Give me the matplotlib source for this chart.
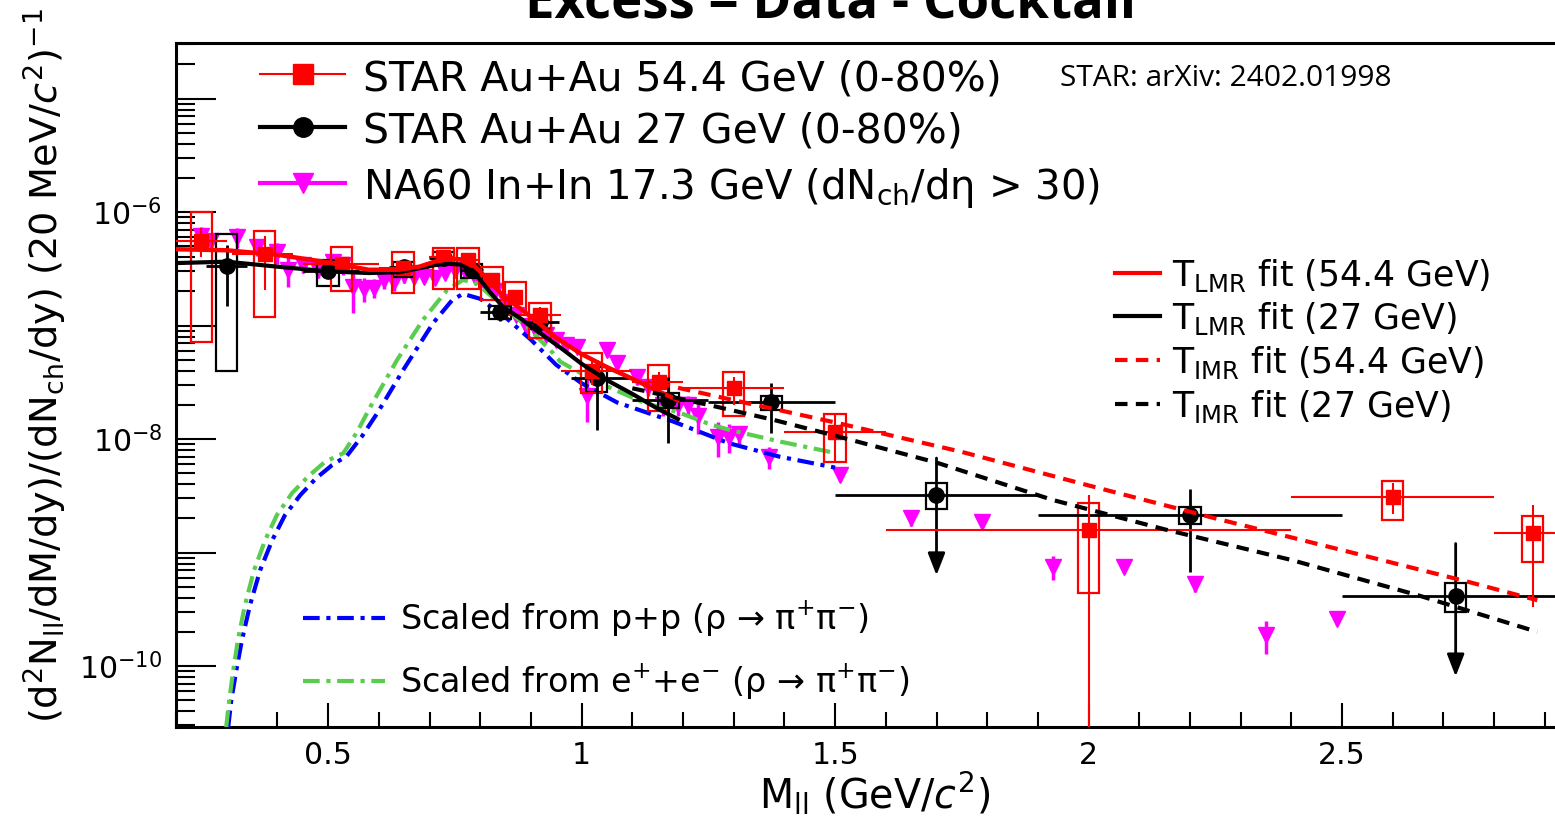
import numpy as np
import matplotlib
matplotlib.use('Agg')
import matplotlib.pyplot as plt
from matplotlib.patches import Rectangle
from matplotlib.lines import Line2D
from matplotlib.ticker import LogLocator, MultipleLocator, FuncFormatter, NullFormatter

plt.rcParams['font.family'] = ['DejaVu Sans']
plt.rcParams['mathtext.default'] = 'regular'

# STAR Au+Au 54.4 GeV (0-80%)
red_m = np.array([0.25, 0.375, 0.527, 0.648, 0.727, 0.776, 0.823, 0.869, 0.918, 1.02, 1.152, 1.30, 1.50, 2.00, 2.60, 2.876])
red_y = np.array([5.5e-7, 4.3e-7, 3.5e-7, 3.2e-7, 4.0e-7, 3.8e-7, 2.5e-7, 1.8e-7, 1.24e-7, 4.0e-8, 3.2e-8, 2.8e-8, 1.16e-8, 1.58e-9, 3.1e-9, 1.49e-9])
red_m_lo = np.array([0.20, 0.31, 0.45, 0.60, 0.70, 0.75, 0.80, 0.84, 0.88, 0.96, 1.10, 1.20, 1.40, 1.60, 2.40, 2.80])
red_m_hi = np.array([0.30, 0.43, 0.60, 0.70, 0.75, 0.80, 0.84, 0.88, 0.96, 1.10, 1.20, 1.40, 1.60, 2.40, 2.80, 3.00])
red_stat_lo = np.array([4.0e-7, 2.05e-7, 3.0e-7, 2.8e-7, 3.6e-7, 3.4e-7, 2.2e-7, 1.6e-7, 1.05e-7, 3.0e-8, 2.6e-8, 2.0e-8, 6.2e-9, 1e-13, 2.2e-9, 3.3e-10])
red_stat_hi = np.array([7.2e-7, 6.1e-7, 4.0e-7, 3.6e-7, 4.4e-7, 4.2e-7, 2.8e-7, 2.0e-7, 1.45e-7, 5.2e-8, 3.9e-8, 3.5e-8, 1.7e-8, 3.2e-9, 4.1e-9, 2.6e-9])
red_sys_lo = np.array([7.2e-8, 1.2e-7, 2.0e-7, 1.92e-7, 2.1e-7, 2.1e-7, 1.67e-7, 1.24e-7, 7.8e-8, 2.56e-8, 1.77e-8, 1.6e-8, 6.3e-9, 4.4e-10, 1.95e-9, 8.3e-10])
red_sys_hi = np.array([1.0e-6, 6.8e-7, 4.9e-7, 4.47e-7, 4.8e-7, 4.8e-7, 3.3e-7, 2.4e-7, 1.58e-7, 5.7e-8, 4.5e-8, 3.9e-8, 1.66e-8, 2.75e-9, 4.3e-9, 2.1e-9])

# STAR Au+Au 27 GeV (0-80%)
blk_m = np.array([0.30, 0.50, 0.649, 0.728, 0.783, 0.839, 0.918, 1.03, 1.171, 1.374, 1.70, 2.20, 2.724])
blk_y = np.array([3.34e-7, 3.0e-7, 3.3e-7, 3.95e-7, 3.08e-7, 1.32e-7, 1.08e-7, 3.43e-8, 2.2e-8, 2.1e-8, 3.2e-9, 2.13e-9, 4.1e-10])
blk_m_lo = np.array([0.26, 0.45, 0.62, 0.70, 0.76, 0.80, 0.89, 0.98, 1.10, 1.25, 1.50, 1.90, 2.50])
blk_m_hi = np.array([0.34, 0.56, 0.68, 0.76, 0.80, 0.86, 0.955, 1.10, 1.25, 1.50, 1.90, 2.50, 3.00])
blk_stat_lo = np.array([1.5e-7, 2.7e-7, 3.0e-7, 3.7e-7, 2.8e-7, 1.1e-7, 9.0e-8, 1.2e-8, 9.3e-9, 1.13e-8, 6.3e-10, 6.8e-10, 8.1e-11])
blk_stat_hi = np.array([5.1e-7, 3.3e-7, 3.6e-7, 4.2e-7, 3.4e-7, 1.55e-7, 1.28e-7, 5.0e-8, 3.5e-8, 3.1e-8, 6.8e-9, 3.6e-9, 1.2e-9])
blk_uplim = np.array([False, False, False, False, False, False, False, False, False, False, True, False, True])
blk_sys_lo = np.array([4.0e-8, 2.24e-7, 2.65e-7, 3.78e-7, 2.6e-7, 1.15e-7, 9.3e-8, 2.6e-8, 1.86e-8, 1.8e-8, 2.4e-9, 1.8e-9, 3.0e-10])
blk_sys_hi = np.array([6.4e-7, 3.78e-7, 3.65e-7, 4.47e-7, 3.5e-7, 1.5e-7, 1.25e-7, 4.3e-8, 2.55e-8, 2.4e-8, 4.1e-9, 2.5e-9, 5.4e-10])

# NA60 In+In 17.3 GeV
na60_m = np.array([0.25, 0.27, 0.32, 0.36, 0.40, 0.42, 0.45, 0.48, 0.51, 0.53, 0.55, 0.57, 0.59, 0.61, 0.63,
                   0.65, 0.67, 0.69, 0.71, 0.73, 0.75, 0.77, 0.79, 0.81, 0.83, 0.85, 0.87, 0.89, 0.91, 0.93,
                   0.95, 0.97, 0.99, 1.01, 1.05, 1.07, 1.11, 1.13, 1.16, 1.19, 1.21, 1.23, 1.27, 1.29, 1.31,
                   1.37, 1.51, 1.65, 1.79, 1.93, 2.07, 2.21, 2.35, 2.49])
na60_y = np.array([6.2e-7, 5.5e-7, 6.0e-7, 4.9e-7, 4.4e-7, 3.1e-7, 3.4e-7, 3.1e-7, 3.6e-7, 3.4e-7, 2.2e-7, 2.1e-7, 2.16e-7, 2.5e-7, 2.4e-7,
                   2.76e-7, 2.65e-7, 2.7e-7, 2.6e-7, 2.93e-7, 3.1e-7, 3.0e-7, 2.7e-7, 2.3e-7, 2.0e-7, 1.6e-7, 1.25e-7, 1.0e-7, 9.0e-8, 8.2e-8,
                   7.5e-8, 6.8e-8, 6.5e-8, 2.4e-8, 6.1e-8, 4.7e-8, 3.5e-8, 2.9e-8, 2.0e-8, 2.0e-8, 2.0e-8, 1.6e-8, 1.05e-8, 1.05e-8, 1.1e-8,
                   7.0e-9, 4.8e-9, 2.0e-9, 1.87e-9, 7.5e-10, 7.5e-10, 5.3e-10, 1.87e-10, 2.6e-10])
na60_err = np.array([1.2e-7, 0.9e-7, 1.2e-7, 0.8e-7, 0.9e-7, 0.9e-7, 0.5e-7, 0.5e-7, 0.6e-7, 0.6e-7, 0.9e-7, 0.5e-7, 0.4e-7, 0.4e-7, 0.4e-7,
                     0.4e-7, 0.3e-7, 0.3e-7, 0.3e-7, 0.3e-7, 0.3e-7, 0.3e-7, 0.3e-7, 0.25e-7, 0.2e-7, 0.15e-7, 0.12e-7, 1.0e-8, 1.0e-8, 0.9e-8,
                     0.8e-8, 0.8e-8, 0.8e-8, 1.0e-8, 0.8e-8, 0.7e-8, 0.5e-8, 0.5e-8, 0.4e-8, 0.4e-8, 0.4e-8, 0.5e-8, 0.35e-8, 0.3e-8, 0.2e-8,
                     1.5e-9, 0.5e-9, 0.3e-9, 0.2e-9, 1.8e-10, 0.8e-10, 0.8e-10, 0.6e-10, 0.3e-10])

# fits
fit_lmr_54_m = [0.20, 0.30, 0.40, 0.50, 0.58, 0.64, 0.68, 0.71, 0.73, 0.755, 0.775, 0.79, 0.81, 0.83, 0.85, 0.88, 0.91, 0.95, 1.00, 1.05, 1.10, 1.15, 1.19]
fit_lmr_54_y = [4.7e-7, 4.6e-7, 4.2e-7, 3.6e-7, 3.1e-7, 3.1e-7, 3.3e-7, 3.65e-7, 3.8e-7, 3.85e-7, 3.7e-7, 3.3e-7, 2.7e-7, 2.15e-7, 1.75e-7, 1.4e-7, 1.1e-7, 7.8e-8, 5.6e-8, 4.3e-8, 3.4e-8, 2.65e-8, 2.2e-8]
fit_lmr_27_m = [0.20, 0.30, 0.40, 0.50, 0.58, 0.64, 0.68, 0.71, 0.735, 0.76, 0.78, 0.795, 0.82, 0.845, 0.88, 0.91, 0.96, 1.00, 1.05, 1.10, 1.15, 1.19]
fit_lmr_27_y = [3.55e-7, 3.65e-7, 3.3e-7, 3.0e-7, 2.9e-7, 2.95e-7, 3.2e-7, 3.4e-7, 3.5e-7, 3.45e-7, 3.1e-7, 2.7e-7, 1.95e-7, 1.46e-7, 1.15e-7, 9.1e-8, 6.3e-8, 4.6e-8, 3.3e-8, 2.5e-8, 1.85e-8, 1.5e-8]
fit_imr_54_m = [1.15, 1.30, 1.50, 1.75, 2.00, 2.25, 2.50, 2.75, 2.885]
fit_imr_54_y = [3.1e-8, 2.2e-8, 1.4e-8, 7.7e-9, 3.9e-9, 2.0e-9, 1.05e-9, 5.5e-10, 3.8e-10]
fit_imr_27_m = [1.10, 1.25, 1.38, 1.50, 1.70, 1.93, 2.15, 2.40, 2.65, 2.885]
fit_imr_27_y = [2.8e-8, 2.0e-8, 1.47e-8, 1.07e-8, 6.2e-9, 2.9e-9, 1.6e-9, 8.6e-10, 4.2e-10, 2.0e-10]

# rho -> pi pi scaled from p+p and e+e-
pp_m = [0.303, 0.309, 0.319, 0.330, 0.346, 0.366, 0.390, 0.415, 0.445, 0.476, 0.508, 0.537, 0.567, 0.597, 0.648,
        0.707, 0.745, 0.766, 0.80, 0.85, 0.90, 0.95, 1.00, 1.07, 1.18, 1.29, 1.39, 1.50]
pp_y = [2.9e-11, 5.0e-11, 9.2e-11, 1.69e-10, 3.45e-10, 7.0e-10, 1.29e-9, 2.14e-9, 3.2e-9, 4.5e-9, 5.9e-9, 7.1e-9, 1.06e-8, 1.69e-8, 4.05e-8,
        1.05e-7, 1.68e-7, 1.9e-7, 1.72e-7, 1.18e-7, 7.5e-8, 4.5e-8, 3.1e-8, 2.1e-8, 1.43e-8, 9.2e-9, 7.0e-9, 5.6e-9]
ee_m = [0.299, 0.305, 0.313, 0.322, 0.336, 0.354, 0.376, 0.399, 0.429, 0.461, 0.494, 0.530, 0.557, 0.583, 0.636,
        0.687, 0.735, 0.766, 0.793, 0.826, 0.892, 0.944, 0.958, 1.023, 1.122, 1.194, 1.253, 1.293, 1.391, 1.49]
ee_y = [2.9e-11, 5.0e-11, 9.2e-11, 1.69e-10, 3.45e-10, 7.0e-10, 1.29e-9, 2.14e-9, 3.34e-9, 4.7e-9, 6.3e-9, 7.5e-9, 1.15e-8, 1.91e-8, 4.97e-8,
        1.12e-7, 2.06e-7, 2.52e-7, 2.35e-7, 1.75e-7, 9.8e-8, 5.7e-8, 4.8e-8, 3.3e-8, 2.1e-8, 1.7e-8, 1.35e-8, 1.2e-8, 9.5e-9, 7.7e-9]

W, H = 1555, 819
AX_L, AX_R, AX_B, AX_T = 176, 1560, 727, 43


def fx(px):
    return px / W


def fy(py):
    return 1 - py / H


def sys_boxes(ax, m, lo, hi, color, half_width=0.021):
    for x, l, h in zip(m, lo, hi):
        ax.add_patch(Rectangle((x - half_width, l), 2 * half_width, h - l, fill=False,
                               edgecolor=color, lw=1.6, zorder=4))


def legend_row(fig, x0, x1, y_line, y_text, x_text, label, fontsize, line_kw, marker_kw=None):
    fig.add_artist(Line2D([fx(x0), fx(x1)], [fy(y_line), fy(y_line)], **line_kw))
    if marker_kw is not None:
        fig.add_artist(Line2D([fx((x0 + x1) / 2)], [fy(y_line)], lw=0, **marker_kw))
    fig.text(fx(x_text), fy(y_text), label, fontsize=fontsize, va='baseline', ha='left')


fig = plt.figure(figsize=(W / 100, H / 100), dpi=100)
ax = fig.add_axes([AX_L / W, 1 - AX_B / H, (AX_R - AX_L) / W, (AX_B - AX_T) / H])
ax.set_yscale('log')
ax.set_xlim(0.2, 0.2 + (AX_R - AX_L) / 507)
ax.set_ylim(10 ** -10.537, 10 ** -4.511)

# NA60
ax.errorbar(na60_m, na60_y, yerr=na60_err, fmt='v', color='#ff00ff', ms=11, lw=2.5, capsize=0, zorder=2)

# model curves
ax.plot(pp_m, pp_y, color='#0000ff', lw=3, dashes=(4, 1.6, 1, 1.6), zorder=3)
ax.plot(ee_m, ee_y, color='#5acd4f', lw=3, dashes=(4, 1.6, 1, 1.6), zorder=3)

# STAR 27 GeV
sys_boxes(ax, blk_m, blk_sys_lo, blk_sys_hi, 'black')
blk_yerr = np.where(blk_uplim, 0, [blk_y - blk_stat_lo, blk_stat_hi - blk_y])
ax.errorbar(blk_m, blk_y, xerr=[blk_m - blk_m_lo, blk_m_hi - blk_m], yerr=blk_yerr,
            fmt='o', color='black', ms=11, lw=2, capsize=0, zorder=5)
for x, lo, hi in zip(blk_m[blk_uplim], blk_stat_lo[blk_uplim], blk_stat_hi[blk_uplim]):
    ax.annotate('', xy=(x, lo), xytext=(x, hi),
                arrowprops=dict(arrowstyle='-|>,head_width=0.35,head_length=0.9', color='black',
                                lw=2, mutation_scale=15, shrinkA=0, shrinkB=0), zorder=5)

# STAR 54.4 GeV
sys_boxes(ax, red_m, red_sys_lo, red_sys_hi, 'red')
ax.errorbar(red_m, red_y, xerr=[red_m - red_m_lo, red_m_hi - red_m],
            yerr=[red_y - red_stat_lo, red_stat_hi - red_y],
            fmt='s', color='red', ms=10, lw=1.5, capsize=0, zorder=6)

# temperature fits
ax.plot(fit_lmr_27_m, fit_lmr_27_y, color='black', lw=3, zorder=7)
ax.plot(fit_lmr_54_m, fit_lmr_54_y, color='red', lw=3.2, zorder=7)
ax.plot(fit_imr_54_m, fit_imr_54_y, color='red', lw=3, dashes=(3, 2), zorder=7)
ax.plot(fit_imr_27_m, fit_imr_27_y, color='black', lw=3, dashes=(3, 2), zorder=7)

# axes styling (ROOT look)
for s in ax.spines.values():
    s.set_linewidth(2.2)
ax.yaxis.set_major_locator(LogLocator(base=10, numticks=20))
ax.yaxis.set_minor_locator(LogLocator(base=10, subs=np.arange(2, 10), numticks=20))
ax.yaxis.set_minor_formatter(NullFormatter())
ax.yaxis.set_major_formatter(FuncFormatter(
    lambda v, p: r'$10^{%d}$' % round(np.log10(v)) if round(np.log10(v)) % 2 == 0 else ''))
ax.xaxis.set_major_locator(MultipleLocator(0.5))
ax.xaxis.set_minor_locator(MultipleLocator(0.1))
ax.xaxis.set_major_formatter(FuncFormatter(lambda v, p: '%g' % v))
ax.tick_params(which='both', direction='in', top=False, right=False, width=1.5, labelsize=21.5)
ax.tick_params(axis='y', which='major', length=29, pad=10)
ax.tick_params(axis='y', which='minor', length=14)
ax.tick_params(axis='x', which='major', length=17, pad=10)
ax.tick_params(axis='x', which='minor', length=11)

# labels
fig.text(fx(875), fy(794), r'M$_{ll}$ (GeV/$\mathit{c}^{2}$)', fontsize=28.5, ha='center', va='center')
fig.text(fx(45), fy(366), r'(d$^{2}$N$_{ll}$/dM/dy)/(dN$_{ch}$/dy) (20 MeV/$\mathit{c}^{2}$)$^{-1}$',
         fontsize=27.5, ha='center', va='center', rotation=90)
fig.text(fx(831), fy(18), 'Excess = Data - Cocktail', fontfamily='Open Sans', fontweight='bold',
         fontsize=38, ha='center', va='baseline')
fig.text(fx(1060), fy(78), 'STAR: arXiv: 2402.01998', fontfamily='Open Sans', fontsize=21.5,
         ha='left', va='center')

# legends
legend_row(fig, 260, 345, 74, 90, 363, 'STAR Au+Au 54.4 GeV (0-80%)', 29.5,
           dict(color='red', lw=1.5), dict(color='red', marker='s', ms=14))
legend_row(fig, 260, 345, 127, 143, 363, 'STAR Au+Au 27 GeV (0-80%)', 29.5,
           dict(color='black', lw=3), dict(color='black', marker='o', ms=14))
legend_row(fig, 260, 345, 183, 199, 363, 'NA60 In+In 17.3 GeV (dN$_{ch}$/dη > 30)', 29,
           dict(color='#ff00ff', lw=3), dict(color='#ff00ff', marker='v', ms=14))

legend_row(fig, 1115, 1160, 273, 286, 1172, 'T$_{LMR}$ fit (54.4 GeV)', 25, dict(color='red', lw=3))
legend_row(fig, 1115, 1160, 316, 329, 1172, 'T$_{LMR}$ fit (27 GeV)', 25, dict(color='black', lw=3))
legend_row(fig, 1115, 1160, 360, 373, 1172, 'T$_{IMR}$ fit (54.4 GeV)', 25,
           dict(color='red', lw=3, dashes=(3, 2)))
legend_row(fig, 1115, 1160, 404, 417, 1172, 'T$_{IMR}$ fit (27 GeV)', 25,
           dict(color='black', lw=3, dashes=(3, 2)))

legend_row(fig, 303, 385, 618, 630, 400, 'Scaled from p+p (ρ → π$^{+}$π$^{-}$)', 24,
           dict(color='#0000ff', lw=3, dashes=(4, 1.6, 1, 1.6)))
legend_row(fig, 303, 385, 681, 693, 400, 'Scaled from e$^{+}$+e$^{-}$ (ρ → π$^{+}$π$^{-}$)', 24,
           dict(color='#5acd4f', lw=3, dashes=(4, 1.6, 1, 1.6)))

fig.savefig('out.png', dpi=100)
